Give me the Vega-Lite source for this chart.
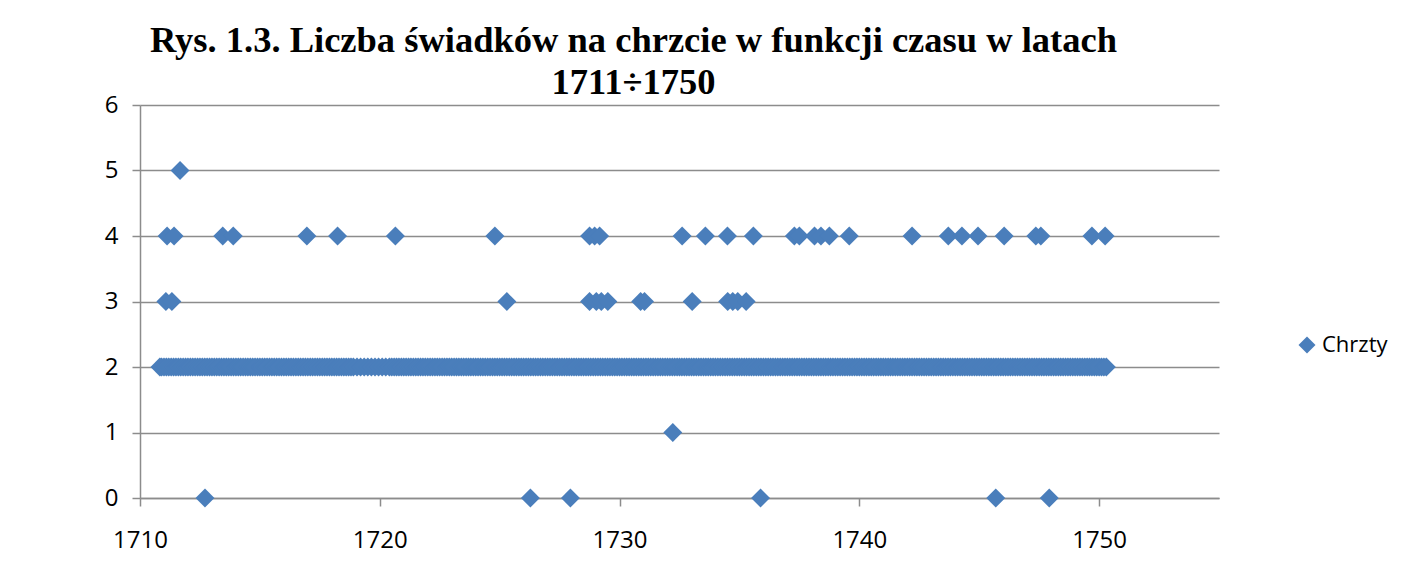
{
  "$schema": "https://vega.github.io/schema/vega-lite/v6.json",
  "width": 1079,
  "height": 393,
  "autosize": {"type": "none"},
  "padding": {"left": 140, "top": 105, "right": 186, "bottom": 65},
  "background": "white",
  "title": {
    "text": ["Rys. 1.3. Liczba świadków na chrzcie w funkcji czasu w latach", "1711÷1750"],
    "font": "Liberation Serif",
    "fontSize": 36.5,
    "fontWeight": "bold",
    "color": "#000000",
    "anchor": "middle",
    "dx": -46,
    "lineHeight": 42,
    "offset": -8
  },
  "data": {
    "values": [
      {"rok": 1711.67, "n": 5},
      {"rok": 1711.13, "n": 4}, {"rok": 1711.42, "n": 4}, {"rok": 1713.45, "n": 4}, {"rok": 1713.89, "n": 4},
      {"rok": 1716.96, "n": 4}, {"rok": 1718.24, "n": 4}, {"rok": 1720.65, "n": 4}, {"rok": 1724.8, "n": 4},
      {"rok": 1728.75, "n": 4}, {"rok": 1728.96, "n": 4}, {"rok": 1729.17, "n": 4}, {"rok": 1732.61, "n": 4},
      {"rok": 1733.58, "n": 4}, {"rok": 1734.5, "n": 4}, {"rok": 1735.58, "n": 4}, {"rok": 1737.29, "n": 4},
      {"rok": 1737.5, "n": 4}, {"rok": 1738.13, "n": 4}, {"rok": 1738.4, "n": 4}, {"rok": 1738.75, "n": 4},
      {"rok": 1739.58, "n": 4}, {"rok": 1742.2, "n": 4}, {"rok": 1743.71, "n": 4}, {"rok": 1744.28, "n": 4},
      {"rok": 1744.95, "n": 4}, {"rok": 1746.04, "n": 4}, {"rok": 1747.36, "n": 4}, {"rok": 1747.57, "n": 4},
      {"rok": 1749.7, "n": 4}, {"rok": 1750.25, "n": 4},
      {"rok": 1711.08, "n": 3}, {"rok": 1711.33, "n": 3}, {"rok": 1725.3, "n": 3}, {"rok": 1728.75, "n": 3},
      {"rok": 1729.03, "n": 3}, {"rok": 1729.24, "n": 3}, {"rok": 1729.51, "n": 3}, {"rok": 1730.88, "n": 3},
      {"rok": 1731.04, "n": 3}, {"rok": 1733.03, "n": 3}, {"rok": 1734.51, "n": 3}, {"rok": 1734.72, "n": 3},
      {"rok": 1734.93, "n": 3}, {"rok": 1735.28, "n": 3},
      {"rok": 1732.22, "n": 1},
      {"rok": 1712.71, "n": 0}, {"rok": 1726.28, "n": 0}, {"rok": 1727.95, "n": 0}, {"rok": 1735.88, "n": 0},
      {"rok": 1745.69, "n": 0}, {"rok": 1747.92, "n": 0},
      {"rok": 1710.83, "n": 2}, {"rok": 1710.9, "n": 2},
      {"rok": 1711.0, "n": 2}, {"rok": 1711.1, "n": 2}, {"rok": 1711.2, "n": 2}, {"rok": 1711.3, "n": 2}, {"rok": 1711.4, "n": 2}, {"rok": 1711.5, "n": 2}, {"rok": 1711.6, "n": 2}, {"rok": 1711.7, "n": 2}, {"rok": 1711.8, "n": 2}, {"rok": 1711.9, "n": 2},
      {"rok": 1712.0, "n": 2}, {"rok": 1712.1, "n": 2}, {"rok": 1712.2, "n": 2}, {"rok": 1712.3, "n": 2}, {"rok": 1712.4, "n": 2}, {"rok": 1712.5, "n": 2}, {"rok": 1712.6, "n": 2}, {"rok": 1712.7, "n": 2}, {"rok": 1712.8, "n": 2}, {"rok": 1712.9, "n": 2},
      {"rok": 1713.0, "n": 2}, {"rok": 1713.1, "n": 2}, {"rok": 1713.2, "n": 2}, {"rok": 1713.3, "n": 2}, {"rok": 1713.4, "n": 2}, {"rok": 1713.5, "n": 2}, {"rok": 1713.6, "n": 2}, {"rok": 1713.7, "n": 2}, {"rok": 1713.8, "n": 2}, {"rok": 1713.9, "n": 2},
      {"rok": 1714.0, "n": 2}, {"rok": 1714.1, "n": 2}, {"rok": 1714.2, "n": 2}, {"rok": 1714.3, "n": 2}, {"rok": 1714.4, "n": 2}, {"rok": 1714.5, "n": 2}, {"rok": 1714.6, "n": 2}, {"rok": 1714.7, "n": 2}, {"rok": 1714.8, "n": 2}, {"rok": 1714.9, "n": 2},
      {"rok": 1715.0, "n": 2}, {"rok": 1715.1, "n": 2}, {"rok": 1715.2, "n": 2}, {"rok": 1715.3, "n": 2}, {"rok": 1715.4, "n": 2}, {"rok": 1715.5, "n": 2}, {"rok": 1715.6, "n": 2}, {"rok": 1715.7, "n": 2}, {"rok": 1715.8, "n": 2}, {"rok": 1715.9, "n": 2},
      {"rok": 1716.0, "n": 2}, {"rok": 1716.1, "n": 2}, {"rok": 1716.2, "n": 2}, {"rok": 1716.3, "n": 2}, {"rok": 1716.4, "n": 2}, {"rok": 1716.5, "n": 2}, {"rok": 1716.6, "n": 2}, {"rok": 1716.7, "n": 2}, {"rok": 1716.8, "n": 2}, {"rok": 1716.9, "n": 2},
      {"rok": 1717.0, "n": 2}, {"rok": 1717.1, "n": 2}, {"rok": 1717.2, "n": 2}, {"rok": 1717.3, "n": 2}, {"rok": 1717.4, "n": 2}, {"rok": 1717.5, "n": 2}, {"rok": 1717.6, "n": 2}, {"rok": 1717.7, "n": 2}, {"rok": 1717.8, "n": 2}, {"rok": 1717.9, "n": 2},
      {"rok": 1718.0, "n": 2}, {"rok": 1718.1, "n": 2}, {"rok": 1718.2, "n": 2}, {"rok": 1718.3, "n": 2}, {"rok": 1718.4, "n": 2}, {"rok": 1718.5, "n": 2}, {"rok": 1718.6, "n": 2}, {"rok": 1718.7, "n": 2}, {"rok": 1718.8, "n": 2}, {"rok": 1718.9, "n": 2},
      {"rok": 1719.05, "n": 2}, {"rok": 1719.2, "n": 2}, {"rok": 1719.35, "n": 2}, {"rok": 1719.5, "n": 2}, {"rok": 1719.65, "n": 2}, {"rok": 1719.8, "n": 2}, {"rok": 1719.95, "n": 2}, {"rok": 1720.1, "n": 2}, {"rok": 1720.25, "n": 2},
      {"rok": 1720.4, "n": 2}, {"rok": 1720.5, "n": 2}, {"rok": 1720.6, "n": 2}, {"rok": 1720.7, "n": 2}, {"rok": 1720.8, "n": 2}, {"rok": 1720.9, "n": 2},
      {"rok": 1721.0, "n": 2}, {"rok": 1721.1, "n": 2}, {"rok": 1721.2, "n": 2}, {"rok": 1721.3, "n": 2}, {"rok": 1721.4, "n": 2}, {"rok": 1721.5, "n": 2}, {"rok": 1721.6, "n": 2}, {"rok": 1721.7, "n": 2}, {"rok": 1721.8, "n": 2}, {"rok": 1721.9, "n": 2},
      {"rok": 1722.0, "n": 2}, {"rok": 1722.1, "n": 2}, {"rok": 1722.2, "n": 2}, {"rok": 1722.3, "n": 2}, {"rok": 1722.4, "n": 2}, {"rok": 1722.5, "n": 2}, {"rok": 1722.6, "n": 2}, {"rok": 1722.7, "n": 2}, {"rok": 1722.8, "n": 2}, {"rok": 1722.9, "n": 2},
      {"rok": 1723.0, "n": 2}, {"rok": 1723.1, "n": 2}, {"rok": 1723.2, "n": 2}, {"rok": 1723.3, "n": 2}, {"rok": 1723.4, "n": 2}, {"rok": 1723.5, "n": 2}, {"rok": 1723.6, "n": 2}, {"rok": 1723.7, "n": 2}, {"rok": 1723.8, "n": 2}, {"rok": 1723.9, "n": 2},
      {"rok": 1724.0, "n": 2}, {"rok": 1724.1, "n": 2}, {"rok": 1724.2, "n": 2}, {"rok": 1724.3, "n": 2}, {"rok": 1724.4, "n": 2}, {"rok": 1724.5, "n": 2}, {"rok": 1724.6, "n": 2}, {"rok": 1724.7, "n": 2}, {"rok": 1724.8, "n": 2}, {"rok": 1724.9, "n": 2},
      {"rok": 1725.0, "n": 2}, {"rok": 1725.1, "n": 2}, {"rok": 1725.2, "n": 2}, {"rok": 1725.3, "n": 2}, {"rok": 1725.4, "n": 2}, {"rok": 1725.5, "n": 2}, {"rok": 1725.6, "n": 2}, {"rok": 1725.7, "n": 2}, {"rok": 1725.8, "n": 2}, {"rok": 1725.9, "n": 2},
      {"rok": 1726.0, "n": 2}, {"rok": 1726.1, "n": 2}, {"rok": 1726.2, "n": 2}, {"rok": 1726.3, "n": 2}, {"rok": 1726.4, "n": 2}, {"rok": 1726.5, "n": 2}, {"rok": 1726.6, "n": 2}, {"rok": 1726.7, "n": 2}, {"rok": 1726.8, "n": 2}, {"rok": 1726.9, "n": 2},
      {"rok": 1727.0, "n": 2}, {"rok": 1727.1, "n": 2}, {"rok": 1727.2, "n": 2}, {"rok": 1727.3, "n": 2}, {"rok": 1727.4, "n": 2}, {"rok": 1727.5, "n": 2}, {"rok": 1727.6, "n": 2}, {"rok": 1727.7, "n": 2}, {"rok": 1727.8, "n": 2}, {"rok": 1727.9, "n": 2},
      {"rok": 1728.0, "n": 2}, {"rok": 1728.1, "n": 2}, {"rok": 1728.2, "n": 2}, {"rok": 1728.3, "n": 2}, {"rok": 1728.4, "n": 2}, {"rok": 1728.5, "n": 2}, {"rok": 1728.6, "n": 2}, {"rok": 1728.7, "n": 2}, {"rok": 1728.8, "n": 2}, {"rok": 1728.9, "n": 2},
      {"rok": 1729.0, "n": 2}, {"rok": 1729.1, "n": 2}, {"rok": 1729.2, "n": 2}, {"rok": 1729.3, "n": 2}, {"rok": 1729.4, "n": 2}, {"rok": 1729.5, "n": 2}, {"rok": 1729.6, "n": 2}, {"rok": 1729.7, "n": 2}, {"rok": 1729.8, "n": 2}, {"rok": 1729.9, "n": 2},
      {"rok": 1730.0, "n": 2}, {"rok": 1730.1, "n": 2}, {"rok": 1730.2, "n": 2}, {"rok": 1730.3, "n": 2}, {"rok": 1730.4, "n": 2}, {"rok": 1730.5, "n": 2}, {"rok": 1730.6, "n": 2}, {"rok": 1730.7, "n": 2}, {"rok": 1730.8, "n": 2}, {"rok": 1730.9, "n": 2},
      {"rok": 1731.0, "n": 2}, {"rok": 1731.1, "n": 2}, {"rok": 1731.2, "n": 2}, {"rok": 1731.3, "n": 2}, {"rok": 1731.4, "n": 2}, {"rok": 1731.5, "n": 2}, {"rok": 1731.6, "n": 2}, {"rok": 1731.7, "n": 2}, {"rok": 1731.8, "n": 2}, {"rok": 1731.9, "n": 2},
      {"rok": 1732.0, "n": 2}, {"rok": 1732.1, "n": 2}, {"rok": 1732.2, "n": 2}, {"rok": 1732.3, "n": 2}, {"rok": 1732.4, "n": 2}, {"rok": 1732.5, "n": 2}, {"rok": 1732.6, "n": 2}, {"rok": 1732.7, "n": 2}, {"rok": 1732.8, "n": 2}, {"rok": 1732.9, "n": 2},
      {"rok": 1733.0, "n": 2}, {"rok": 1733.1, "n": 2}, {"rok": 1733.2, "n": 2}, {"rok": 1733.3, "n": 2}, {"rok": 1733.4, "n": 2}, {"rok": 1733.5, "n": 2}, {"rok": 1733.6, "n": 2}, {"rok": 1733.7, "n": 2}, {"rok": 1733.8, "n": 2}, {"rok": 1733.9, "n": 2},
      {"rok": 1734.0, "n": 2}, {"rok": 1734.1, "n": 2}, {"rok": 1734.2, "n": 2}, {"rok": 1734.3, "n": 2}, {"rok": 1734.4, "n": 2}, {"rok": 1734.5, "n": 2}, {"rok": 1734.6, "n": 2}, {"rok": 1734.7, "n": 2}, {"rok": 1734.8, "n": 2}, {"rok": 1734.9, "n": 2},
      {"rok": 1735.0, "n": 2}, {"rok": 1735.1, "n": 2}, {"rok": 1735.2, "n": 2}, {"rok": 1735.3, "n": 2}, {"rok": 1735.4, "n": 2}, {"rok": 1735.5, "n": 2}, {"rok": 1735.6, "n": 2}, {"rok": 1735.7, "n": 2}, {"rok": 1735.8, "n": 2}, {"rok": 1735.9, "n": 2},
      {"rok": 1736.0, "n": 2}, {"rok": 1736.1, "n": 2}, {"rok": 1736.2, "n": 2}, {"rok": 1736.3, "n": 2}, {"rok": 1736.4, "n": 2}, {"rok": 1736.5, "n": 2}, {"rok": 1736.6, "n": 2}, {"rok": 1736.7, "n": 2}, {"rok": 1736.8, "n": 2}, {"rok": 1736.9, "n": 2},
      {"rok": 1737.0, "n": 2}, {"rok": 1737.1, "n": 2}, {"rok": 1737.2, "n": 2}, {"rok": 1737.3, "n": 2}, {"rok": 1737.4, "n": 2}, {"rok": 1737.5, "n": 2}, {"rok": 1737.6, "n": 2}, {"rok": 1737.7, "n": 2}, {"rok": 1737.8, "n": 2}, {"rok": 1737.9, "n": 2},
      {"rok": 1738.0, "n": 2}, {"rok": 1738.1, "n": 2}, {"rok": 1738.2, "n": 2}, {"rok": 1738.3, "n": 2}, {"rok": 1738.4, "n": 2}, {"rok": 1738.5, "n": 2}, {"rok": 1738.6, "n": 2}, {"rok": 1738.7, "n": 2}, {"rok": 1738.8, "n": 2}, {"rok": 1738.9, "n": 2},
      {"rok": 1739.0, "n": 2}, {"rok": 1739.1, "n": 2}, {"rok": 1739.2, "n": 2}, {"rok": 1739.3, "n": 2}, {"rok": 1739.4, "n": 2}, {"rok": 1739.5, "n": 2}, {"rok": 1739.6, "n": 2}, {"rok": 1739.7, "n": 2}, {"rok": 1739.8, "n": 2}, {"rok": 1739.9, "n": 2},
      {"rok": 1740.0, "n": 2}, {"rok": 1740.1, "n": 2}, {"rok": 1740.2, "n": 2}, {"rok": 1740.3, "n": 2}, {"rok": 1740.4, "n": 2}, {"rok": 1740.5, "n": 2}, {"rok": 1740.6, "n": 2}, {"rok": 1740.7, "n": 2}, {"rok": 1740.8, "n": 2}, {"rok": 1740.9, "n": 2},
      {"rok": 1741.0, "n": 2}, {"rok": 1741.1, "n": 2}, {"rok": 1741.2, "n": 2}, {"rok": 1741.3, "n": 2}, {"rok": 1741.4, "n": 2}, {"rok": 1741.5, "n": 2}, {"rok": 1741.6, "n": 2}, {"rok": 1741.7, "n": 2}, {"rok": 1741.8, "n": 2}, {"rok": 1741.9, "n": 2},
      {"rok": 1742.0, "n": 2}, {"rok": 1742.1, "n": 2}, {"rok": 1742.2, "n": 2}, {"rok": 1742.3, "n": 2}, {"rok": 1742.4, "n": 2}, {"rok": 1742.5, "n": 2}, {"rok": 1742.6, "n": 2}, {"rok": 1742.7, "n": 2}, {"rok": 1742.8, "n": 2}, {"rok": 1742.9, "n": 2},
      {"rok": 1743.0, "n": 2}, {"rok": 1743.1, "n": 2}, {"rok": 1743.2, "n": 2}, {"rok": 1743.3, "n": 2}, {"rok": 1743.4, "n": 2}, {"rok": 1743.5, "n": 2}, {"rok": 1743.6, "n": 2}, {"rok": 1743.7, "n": 2}, {"rok": 1743.8, "n": 2}, {"rok": 1743.9, "n": 2},
      {"rok": 1744.0, "n": 2}, {"rok": 1744.1, "n": 2}, {"rok": 1744.2, "n": 2}, {"rok": 1744.3, "n": 2}, {"rok": 1744.4, "n": 2}, {"rok": 1744.5, "n": 2}, {"rok": 1744.6, "n": 2}, {"rok": 1744.7, "n": 2}, {"rok": 1744.8, "n": 2}, {"rok": 1744.9, "n": 2},
      {"rok": 1745.0, "n": 2}, {"rok": 1745.1, "n": 2}, {"rok": 1745.2, "n": 2}, {"rok": 1745.3, "n": 2}, {"rok": 1745.4, "n": 2}, {"rok": 1745.5, "n": 2}, {"rok": 1745.6, "n": 2}, {"rok": 1745.7, "n": 2}, {"rok": 1745.8, "n": 2}, {"rok": 1745.9, "n": 2},
      {"rok": 1746.0, "n": 2}, {"rok": 1746.1, "n": 2}, {"rok": 1746.2, "n": 2}, {"rok": 1746.3, "n": 2}, {"rok": 1746.4, "n": 2}, {"rok": 1746.5, "n": 2}, {"rok": 1746.6, "n": 2}, {"rok": 1746.7, "n": 2}, {"rok": 1746.8, "n": 2}, {"rok": 1746.9, "n": 2},
      {"rok": 1747.0, "n": 2}, {"rok": 1747.1, "n": 2}, {"rok": 1747.2, "n": 2}, {"rok": 1747.3, "n": 2}, {"rok": 1747.4, "n": 2}, {"rok": 1747.5, "n": 2}, {"rok": 1747.6, "n": 2}, {"rok": 1747.7, "n": 2}, {"rok": 1747.8, "n": 2}, {"rok": 1747.9, "n": 2},
      {"rok": 1748.0, "n": 2}, {"rok": 1748.1, "n": 2}, {"rok": 1748.2, "n": 2}, {"rok": 1748.3, "n": 2}, {"rok": 1748.4, "n": 2}, {"rok": 1748.5, "n": 2}, {"rok": 1748.6, "n": 2}, {"rok": 1748.7, "n": 2}, {"rok": 1748.8, "n": 2}, {"rok": 1748.9, "n": 2},
      {"rok": 1749.0, "n": 2}, {"rok": 1749.1, "n": 2}, {"rok": 1749.2, "n": 2}, {"rok": 1749.3, "n": 2}, {"rok": 1749.4, "n": 2}, {"rok": 1749.5, "n": 2}, {"rok": 1749.6, "n": 2}, {"rok": 1749.7, "n": 2}, {"rok": 1749.8, "n": 2}, {"rok": 1749.9, "n": 2},
      {"rok": 1750.0, "n": 2}, {"rok": 1750.1, "n": 2}, {"rok": 1750.2, "n": 2}, {"rok": 1750.3, "n": 2}
    ]
  },
  "mark": {"type": "point", "shape": "diamond", "filled": true, "size": 360, "opacity": 1, "strokeWidth": 0},
  "encoding": {
    "x": {
      "field": "rok",
      "type": "quantitative",
      "scale": {"domain": [1710, 1755], "nice": false, "zero": false},
      "axis": {
        "title": null,
        "values": [1710, 1720, 1730, 1740, 1750],
        "format": "d",
        "grid": false,
        "labelFlush": false,
        "domainColor": "#8C8C8C",
        "domainWidth": 1.5,
        "tickColor": "#8C8C8C",
        "tickWidth": 1.5,
        "tickSize": 8,
        "labelFont": "Open Sans",
        "labelFontSize": 24,
        "labelColor": "#000000",
        "labelPadding": 22
      }
    },
    "y": {
      "field": "n",
      "type": "quantitative",
      "scale": {"domain": [0, 6], "nice": false},
      "axis": {
        "title": null,
        "values": [0, 1, 2, 3, 4, 5, 6],
        "grid": true,
        "labelFlush": false,
        "gridColor": "#8C8C8C",
        "gridWidth": 1.5,
        "domainColor": "#8C8C8C",
        "domainWidth": 1.5,
        "tickColor": "#8C8C8C",
        "tickWidth": 1.5,
        "tickSize": 8,
        "labelFont": "Open Sans",
        "labelFontSize": 24,
        "labelColor": "#000000",
        "labelPadding": 14
      }
    },
    "color": {
      "datum": "Chrzty",
      "type": "nominal",
      "scale": {"range": ["#4A7EBB"]},
      "legend": {
        "title": null,
        "orient": "none",
        "legendX": 1156,
        "legendY": 229,
        "padding": 0,
        "symbolType": "diamond",
        "symbolSize": 289,
        "symbolStrokeWidth": 0,
        "labelFont": "Open Sans",
        "labelFontSize": 22,
        "labelColor": "#000000",
        "labelOffset": 4
      }
    }
  },
  "config": {
    "view": {"stroke": null}
  }
}
